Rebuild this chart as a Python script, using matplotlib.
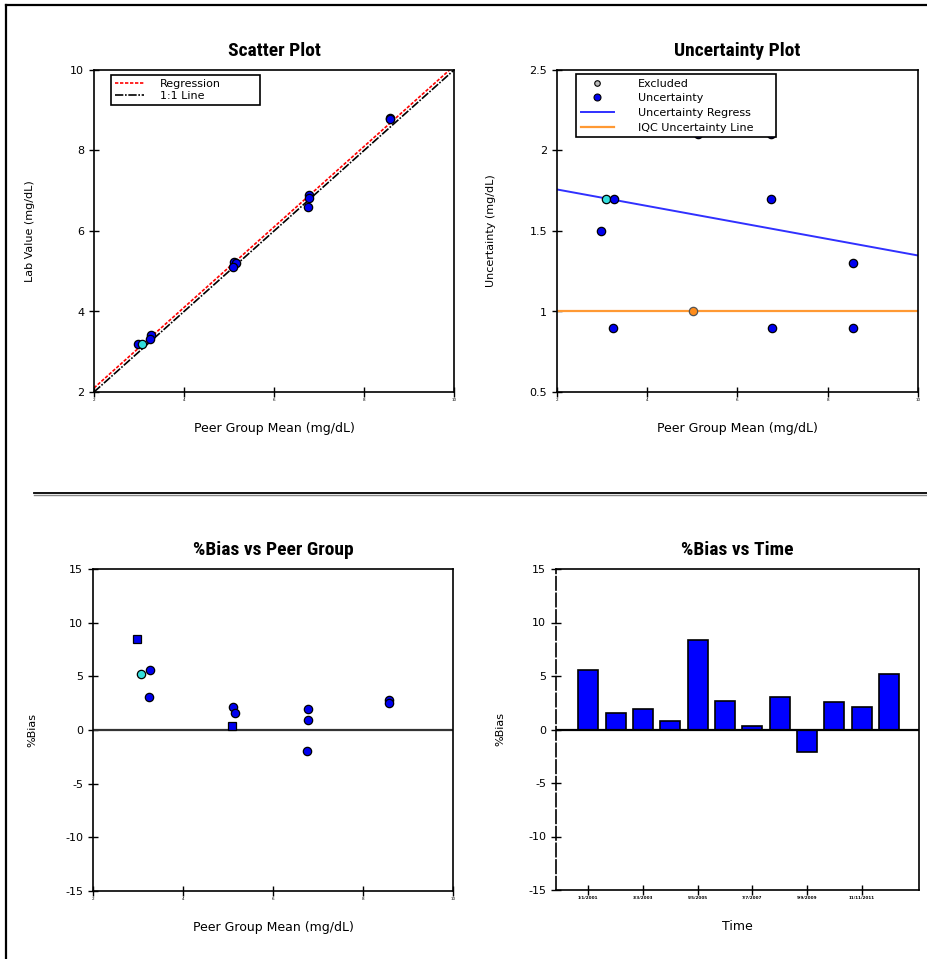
import matplotlib
matplotlib.use("Agg")
from matplotlib import pyplot as plt
from matplotlib import font_manager
from matplotlib.lines import Line2D

# data
peer_mean = [2.98, 3.07, 3.27, 3.24, 5.12, 5.15, 5.10, 6.77, 6.77, 6.75, 8.57, 8.57]
lab_value = [3.20, 3.20, 3.42, 3.32, 5.22, 5.20, 5.10, 6.90, 6.82, 6.60, 8.80, 8.78]
bias_pct = [8.5, 5.2, 5.6, 3.1, 2.1, 1.6, 0.4, 2.0, 0.9, -2.0, 2.8, 2.5]
excluded = [False, True, False, False, False, False, False, False, False, False, False, False]
square_pts = [True, False, False, False, False, False, True, False, False, False, False, False]

regress_int, regress_slope = 0.1, 1.0

unc_x = [3.08, 3.26, 2.97, 3.24, 5.12, 6.75, 6.75, 6.77, 8.55, 8.57]
unc_y = [1.70, 1.70, 1.50, 0.90, 2.10, 2.10, 1.70, 0.90, 1.30, 0.90]
unc_excluded = [True, False, False, False, False, False, False, False, False, False]
iqc_x, iqc_y = 5.01, 1.0
unc_reg_x = [2.0, 10.0]
unc_reg_y = [1.758, 1.348]

time_bias = [5.55, 1.53, 1.96, 0.78, 8.41, 2.71, 0.31, 3.02, -2.06, 2.55, 2.12, 5.23]
time_ticks = [0, 2, 4, 6, 8, 10]
time_labels = ["1/1/2001", "3/3/2003", "5/5/2005", "7/7/2007", "9/9/2009", "11/11/2011"]


def pick_font(names):
    have = {f.name for f in font_manager.fontManager.ttflist}
    for n in names:
        if n in have:
            return n
    return "DejaVu Sans"


title_font = pick_font(["Liberation Sans Narrow", "Roboto Condensed", "DejaVu Sans"])
plt.rcParams['font.family'] = ['DejaVu Sans']
plt.rcParams['axes.unicode_minus'] = False

BLUE = "#0000F0"
CYAN = "#33DDDD"


def style_axes(ax, title):
    ax.set_title(title, fontsize=14, fontweight="bold", family=title_font, pad=10)
    ax.tick_params(direction="inout", length=7, width=1, labelsize=8, colors="black")
    ax.tick_params(axis="x", labelsize=3, pad=1)
    for s in ax.spines.values():
        s.set_linewidth(1.2)


def dots(ax, xs, ys, excl, squares=None):
    for i, (x, y) in enumerate(zip(xs, ys)):
        m = "s" if squares and squares[i] else "o"
        c = CYAN if excl[i] else BLUE
        ax.plot(x, y, marker=m, ms=6, mfc=c, mec="black", mew=0.9, ls="none", zorder=5)


fig = plt.figure(figsize=(9.28, 9.59), dpi=100)

# outer frame and divider
fig.add_artist(Line2D([6 / 928, 6 / 928], [0, 1 - 5 / 959], color="black", lw=1.6))
fig.add_artist(Line2D([6 / 928, 1], [1 - 5 / 959, 1 - 5 / 959], color="black", lw=1.6))
fig.add_artist(Line2D([34 / 928, 1], [1 - 493 / 959, 1 - 493 / 959], color="black", lw=1.3))
fig.add_artist(Line2D([34 / 928, 1], [1 - 495 / 959, 1 - 495 / 959], color="#888888", lw=1.0))

# scatter plot
ax1 = fig.add_axes([94 / 928, 1 - 392 / 959, 360 / 928, 322 / 959])
style_axes(ax1, "Scatter Plot")
xl = [2, 10]
ax1.plot(xl, [regress_int + regress_slope * v for v in xl], color="red", lw=1.2,
         ls=(0, (2, 1)), label="Regression")
ax1.plot(xl, xl, color="black", lw=1.2, ls=(0, (5, 1, 1, 1)), label="1:1 Line")
dots(ax1, peer_mean, lab_value, excluded)
ax1.set_xlim(2, 10)
ax1.set_ylim(2, 10)
ax1.set_xticks([2, 4, 6, 8, 10])
ax1.set_yticks([2, 4, 6, 8, 10])
ax1.set_xlabel("Peer Group Mean (mg/dL)", fontsize=9, labelpad=14)
ax1.set_ylabel("Lab Value (mg/dL)", fontsize=8)
ax1.yaxis.set_label_coords(-0.165, 0.5)
leg = ax1.legend(loc="upper left", bbox_to_anchor=(0.047, 0.5, 0.414, 0.484), mode="expand",
                 fontsize=8, fancybox=False, edgecolor="black", framealpha=1,
                 handlelength=2.6, handletextpad=1.5, borderpad=0.35, labelspacing=0.2,
                 borderaxespad=0)
leg.get_frame().set_linewidth(1.2)

# uncertainty plot
ax2 = fig.add_axes([557 / 928, 1 - 392 / 959, 361 / 928, 322 / 959])
style_axes(ax2, "Uncertainty Plot")
ax2.plot(unc_reg_x, unc_reg_y, color="#3030FF", lw=1.4, label="Uncertainty Regress")
ax2.plot([2, 10], [iqc_y, iqc_y], color="#FF9933", lw=1.6, label="IQC Uncertainty Line")
dots(ax2, unc_x, unc_y, unc_excluded)
ax2.plot(iqc_x, iqc_y, marker="o", ms=6, mfc="#FF8C1A", mec="#555555", mew=0.9, zorder=5)
ax2.set_xlim(2, 10)
ax2.set_ylim(0.5, 2.5)
ax2.set_xticks([2, 4, 6, 8, 10])
ax2.set_yticks([0.5, 1, 1.5, 2, 2.5])
ax2.set_yticklabels(["0.5", "1", "1.5", "2", "2.5"])
ax2.set_xlabel("Peer Group Mean (mg/dL)", fontsize=9, labelpad=14)
ax2.set_ylabel("Uncertainty (mg/dL)", fontsize=8)
ax2.yaxis.set_label_coords(-0.17, 0.5)
h_exc = Line2D([], [], marker="o", ms=4, mfc="#BBBBBB", mec="black", mew=0.8, ls="none")
h_unc = Line2D([], [], marker="o", ms=5, mfc=BLUE, mec="black", mew=0.8, ls="none")
handles = [h_exc, h_unc] + ax2.get_legend_handles_labels()[0]
labels = ["Excluded", "Uncertainty", "Uncertainty Regress", "IQC Uncertainty Line"]
leg2 = ax2.legend(handles, labels, loc="upper left", bbox_to_anchor=(0.053, 0.5, 0.554, 0.487),
                  mode="expand", fontsize=8, fancybox=False, edgecolor="black", framealpha=1,
                  handlelength=3, handletextpad=2.2, borderpad=0.4, labelspacing=0.42,
                  borderaxespad=0)
leg2.get_frame().set_linewidth(1.2)
leg2.set_zorder(10)

# %bias vs peer group
ax3 = fig.add_axes([93 / 928, 1 - 891 / 959, 360 / 928, 322 / 959])
style_axes(ax3, "%Bias vs Peer Group")
ax3.axhline(0, color="#333333", lw=1.6)
dots(ax3, peer_mean, bias_pct, excluded, square_pts)
ax3.set_xlim(2, 10)
ax3.set_ylim(-15, 15)
ax3.set_xticks([2, 4, 6, 8, 10])
ax3.set_yticks([-15, -10, -5, 0, 5, 10, 15])
ax3.set_xlabel("Peer Group Mean (mg/dL)", fontsize=9, labelpad=14)
ax3.set_ylabel("%Bias", fontsize=8)
ax3.yaxis.set_label_coords(-0.155, 0.5)

# %bias vs time
ax4 = fig.add_axes([556 / 928, 1 - 890 / 959, 363 / 928, 321 / 959])
style_axes(ax4, "%Bias vs Time")
ax4.bar(range(len(time_bias)), time_bias, width=0.73, color="#0000FF", edgecolor="black",
        lw=1.2, zorder=3)
ax4.axhline(0, color="black", lw=1.6, zorder=4)
ax4.set_xlim(-1.18, 12.1)
ax4.set_ylim(-15, 15)
ax4.set_xticks(time_ticks)
ax4.set_xticklabels(time_labels, fontweight="bold")
ax4.set_yticks([-15, -10, -5, 0, 5, 10, 15])
ax4.spines["left"].set_linestyle((0, (8, 2)))
ax4.set_xlabel("Time", fontsize=9, labelpad=14)
ax4.set_ylabel("%Bias", fontsize=8)
ax4.yaxis.set_label_coords(-0.14, 0.5)

plt.savefig("out.png", dpi=100)
